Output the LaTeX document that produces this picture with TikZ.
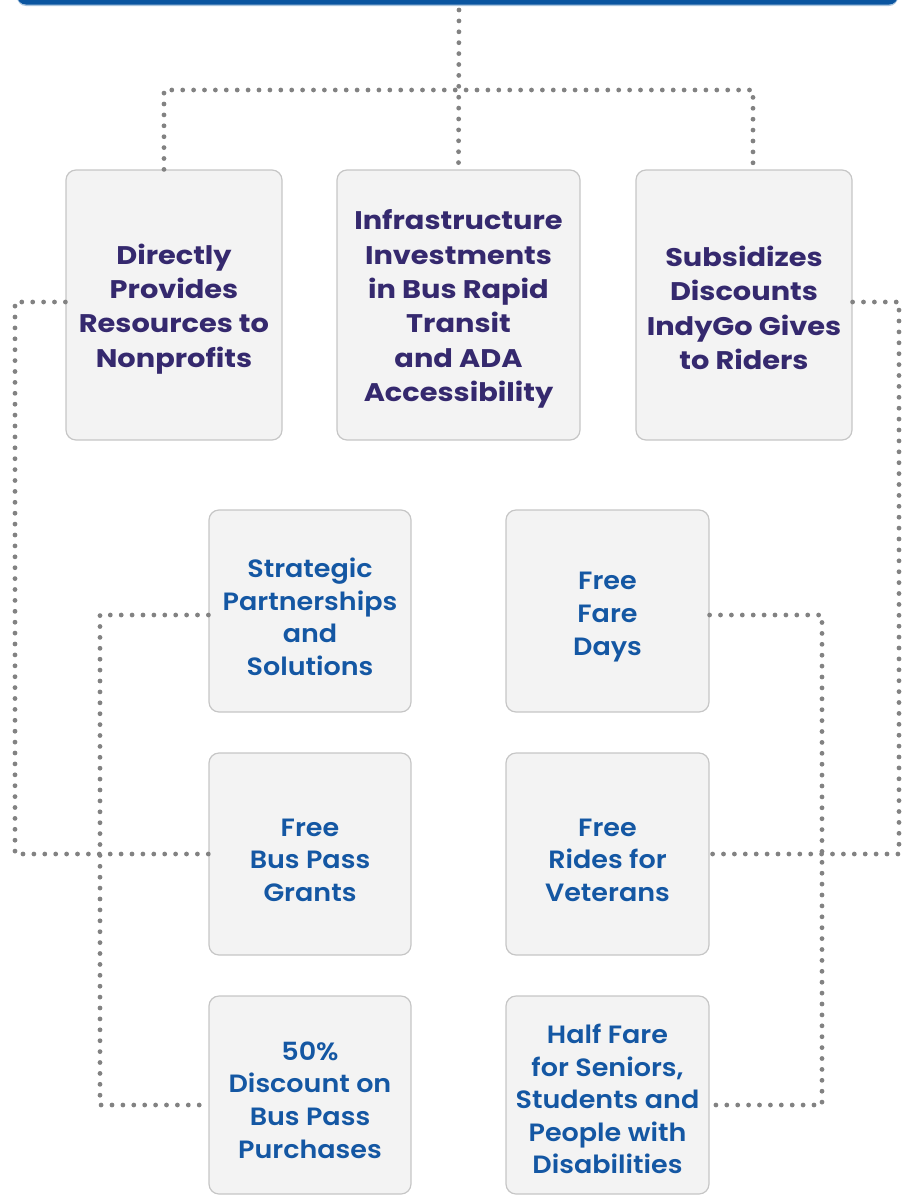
\documentclass[tikz,border=0pt]{standalone}
\usepackage{fontspec}
\setmainfont{Poppins}
\newfontfamily\topfont{Poppins Bold}[FakeStretch=1.13]
\newfontfamily\lowfont{Poppins SemiBold}[FakeStretch=1.08]
\definecolor{barblue}{HTML}{0A55A0}
\definecolor{purpletxt}{HTML}{35296E}
\definecolor{bluetxt}{HTML}{1457A3}
\definecolor{boxfill}{HTML}{F3F3F3}
\definecolor{boxline}{HTML}{C6C6C6}
\definecolor{dotgray}{HTML}{828282}
\begin{document}
\begin{tikzpicture}[x=1pt,y=-1pt,
  card/.style={draw=boxline, fill=boxfill, line width=1.2pt, rounded corners=10pt, inner sep=0pt},
  toptxt/.style={align=center, inner sep=0pt, text=purpletxt, font=\topfont\fontsize{25.5}{34.3}\selectfont},
  lowtxt/.style={align=center, inner sep=0pt, text=bluetxt, font=\lowfont\fontsize{25}{32.6}\selectfont},
  dotline/.style={draw=dotgray, line width=4.8pt, line cap=round, dash pattern=on 0pt off 10.9pt}]
\useasboundingbox (0,0) rectangle (902,1197);
\clip (0,0) rectangle (902,1197);
% top banner
\fill[barblue!35, rounded corners=9pt] (17,-40) rectangle (898,6);
\fill[barblue, rounded corners=9pt] (17,-40) rectangle (898,4.5);
% boxes
\node[card, minimum width=216pt, minimum height=270pt] (b1) at (174,305) {};
\node[card, minimum width=243pt, minimum height=270pt] (b2) at (458.5,305) {};
\node[card, minimum width=216pt, minimum height=270pt] (b3) at (744,305) {};
\node[card, minimum width=202pt, minimum height=202pt] (l1) at (310,611) {};
\node[card, minimum width=202pt, minimum height=202pt] (l2) at (310,854) {};
\node[card, minimum width=202pt, minimum height=198pt] (l3) at (310,1095) {};
\node[card, minimum width=203pt, minimum height=202pt] (r1) at (607.5,611) {};
\node[card, minimum width=203pt, minimum height=202pt] (r2) at (607.5,854) {};
\node[card, minimum width=203pt, minimum height=198pt] (r3) at (607.5,1095) {};
% texts
\node[toptxt] (b1t) at ([yshift=-4pt]b1.center) {Directly\\Provides\\Resources to\\Nonprofits};
\node[toptxt] (b2t) at ([yshift=-4pt]b2.center) {Infrastructure\\Investments\\in Bus Rapid\\Transit\\and ADA\\Accessibility};
\node[toptxt] (b3t) at ([yshift=-3pt]b3.center) {Subsidizes\\Discounts\\IndyGo Gives\\to Riders};
\node[lowtxt] (l1t) at ([yshift=-6pt]l1.center) {Strategic\\Partnerships\\and\\Solutions};
\node[lowtxt] (l2t) at ([yshift=-6pt]l2.center) {Free\\Bus Pass\\Grants};
\node[lowtxt] (l3t) at ([yshift=-5pt]l3.center) {50\%\\Discount on\\Bus Pass\\Purchases};
\node[lowtxt] (r1t) at ([yshift=-6pt]r1.center) {Free\\Fare\\Days};
\node[lowtxt] (r2t) at ([yshift=-6pt]r2.center) {Free\\Rides for\\Veterans};
\node[lowtxt] (r3t) at ([yshift=-4pt]r3.center) {Half Fare\\for Seniors,\\Students and\\People with\\Disabilities};
% connectors
\coordinate (top) at (459,10);
\coordinate (jl) at (164,90);
\coordinate (jr) at (753,90);
\draw[dotline] (top) -- (b2.north);
\draw[dotline] (b1.north -| jl) -- (jl) -- (jr) -- (b3.north -| jr);
\coordinate (ll) at (15,302);
\coordinate (rr) at (899,302);
\draw[dotline] (b1.west |- ll) -- (ll) |- (l2.west);
\draw[dotline] (b3.east |- rr) -- (rr) |- (r2.east);
\coordinate (lm) at (100,615);
\coordinate (rm) at (822,615);
\coordinate (lb) at (100,1105);
\coordinate (rb) at (822,1105);
\draw[dotline] (l1.west |- lm) -- (lm) -- (lb) -- (l3.west |- lb);
\draw[dotline] (r1.east |- rm) -- (rm) -- (rb) -- (r3.east |- rb);
\end{tikzpicture}
\end{document}
